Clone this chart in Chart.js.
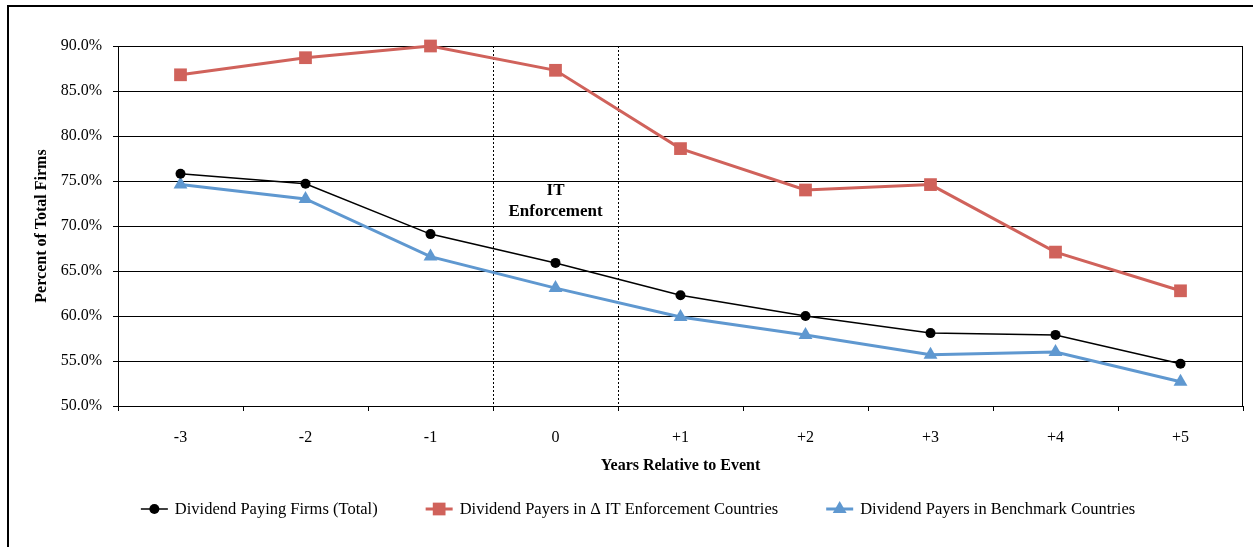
<!DOCTYPE html>
<html>
<head>
<meta charset="utf-8">
<script src="https://cdn.jsdelivr.net/npm/chart.js@4/dist/chart.umd.min.js"></script>
<style>
  html, body { margin: 0; padding: 0; background: #fff; overflow: hidden; }
  #wrap { position: relative; width: 1253px; height: 547px; }
</style>
</head>
<body>
<div id="wrap"><canvas id="myChart" width="1253" height="547"></canvas></div>
<script>
// chart data
const years = ['-3', '-2', '-1', '0', '+1', '+2', '+3', '+4', '+5'];
const totalPayers = [75.8, 74.7, 69.1, 65.9, 62.3, 60.0, 58.1, 57.9, 54.7];
const itPayers = [86.8, 88.7, 90.0, 87.3, 78.6, 74.0, 74.6, 67.1, 62.8];
const benchmarkPayers = [74.6, 73.0, 66.6, 63.1, 59.9, 57.9, 55.7, 56.0, 52.7];
const seriesNames = [
  'Dividend Paying Firms (Total)',
  'Dividend Payers in \u0394 IT Enforcement Countries',
  'Dividend Payers in Benchmark Countries'
];
const yTicks = [50, 55, 60, 65, 70, 75, 80, 85, 90];

const FONT = "'Liberation Serif', 'Times New Roman', serif";
const RED = '#d0625b';
const BLUE = '#5f98d0';

// outer frame, plot box, event window lines, note and legend
const extras = {
  id: 'extras',
  beforeDraw(chart) {
    const ctx = chart.ctx;
    ctx.save();
    ctx.fillStyle = '#fff';
    ctx.fillRect(0, 0, chart.width, chart.height);
    ctx.strokeStyle = '#000';
    ctx.lineWidth = 2;
    ctx.strokeRect(8, 6, chart.width + 20, chart.height + 20);
    ctx.restore();
  },
  beforeDatasetsDraw(chart) {
    const ctx = chart.ctx;
    const a = chart.chartArea;
    const x = chart.scales.x;
    const y = chart.scales.y;
    ctx.save();
    // plot box right edge
    ctx.strokeStyle = '#000';
    ctx.lineWidth = 1;
    ctx.beginPath();
    ctx.moveTo(a.right - 0.5, a.top);
    ctx.lineTo(a.right - 0.5, a.bottom);
    ctx.stroke();

    // dotted lines around year 0
    ctx.setLineDash([2, 2]);
    [[2, 3], [3, 4]].forEach(([i, j]) => {
      const px = Math.round((x.getPixelForValue(i) + x.getPixelForValue(j)) / 2) + 0.5;
      ctx.beginPath();
      ctx.moveTo(px, a.top);
      ctx.lineTo(px, a.bottom);
      ctx.stroke();
    });
    ctx.setLineDash([]);

    // note
    ctx.fillStyle = '#000';
    ctx.font = 'bold 17px ' + FONT;
    ctx.textAlign = 'center';
    ctx.textBaseline = 'middle';
    const nx = x.getPixelForValue(3);
    const ny = y.getPixelForValue(74);
    ctx.fillText('IT', nx, ny + 1);
    ctx.fillText('Enforcement', nx, ny + 22);
    ctx.restore();
  },
  afterDraw(chart) {
    const ctx = chart.ctx;
    ctx.save();
    // legend
    ctx.font = '16.5px ' + FONT;
    ctx.textAlign = 'left';
    ctx.textBaseline = 'middle';
    const lineLen = 27, gapText = 7, gapItem = 48;
    const widths = seriesNames.map(s => ctx.measureText(s).width);
    const total = widths.reduce((s, w) => s + w + lineLen + gapText, 0) + gapItem * 2;
    let lx = 638 - total / 2;
    const ly = 509;
    chart.data.datasets.forEach((ds, i) => {
      ctx.strokeStyle = ds.borderColor;
      ctx.lineWidth = ds.borderWidth;
      ctx.beginPath();
      ctx.moveTo(lx, ly);
      ctx.lineTo(lx + lineLen, ly);
      ctx.stroke();
      ctx.fillStyle = ds.pointBackgroundColor;
      Chart.helpers.drawPoint(ctx, {
        pointStyle: ds.pointStyle,
        radius: ds.pointRadius,
        borderWidth: 0,
        rotation: 0
      }, lx + lineLen / 2, ly);
      ctx.fillStyle = '#000';
      ctx.fillText(ds.label, lx + lineLen + gapText, ly + 1);
      lx += lineLen + gapText + widths[i] + gapItem;
    });
    ctx.restore();
  }
};

new Chart(document.getElementById('myChart'), {
  type: 'line',
  plugins: [extras],
  data: {
    labels: years,
    datasets: [
      {
        label: seriesNames[0],
        data: totalPayers,
        borderColor: '#000',
        backgroundColor: '#000',
        pointBackgroundColor: '#000',
        pointBorderColor: '#000',
        borderWidth: 1.5,
        pointStyle: 'circle',
        pointRadius: 5,
        pointBorderWidth: 0,
        clip: false,
        order: 1
      },
      {
        label: seriesNames[1],
        data: itPayers,
        borderColor: RED,
        backgroundColor: RED,
        pointBackgroundColor: RED,
        pointBorderColor: RED,
        borderWidth: 3,
        pointStyle: 'rect',
        pointRadius: 9,
        pointBorderWidth: 0,
        clip: false,
        order: 2
      },
      {
        label: seriesNames[2],
        data: benchmarkPayers,
        borderColor: BLUE,
        backgroundColor: BLUE,
        pointBackgroundColor: BLUE,
        pointBorderColor: BLUE,
        borderWidth: 3,
        pointStyle: 'triangle',
        pointRadius: 8,
        pointBorderWidth: 0,
        clip: false,
        order: 3
      }
    ]
  },
  options: {
    animation: false,
    responsive: false,
    layout: { padding: { left: 0, top: 46, right: 10, bottom: 71 } },
    plugins: {
      legend: { display: false },
      tooltip: { enabled: false }
    },
    elements: { line: { tension: 0 } },
    scales: {
      x: {
        offset: true,
        afterFit: (s) => { s.height = 70; },
        grid: {
          offset: true,
          drawOnChartArea: false,
          drawTicks: true,
          tickLength: 5,
          color: '#000'
        },
        border: { color: '#000', width: 1 },
        ticks: {
          color: '#000',
          font: { family: FONT, size: 16 },
          padding: 17,
          maxRotation: 0
        },
        title: {
          display: true,
          text: 'Years Relative to Event',
          color: '#000',
          font: { family: FONT, size: 16, weight: 'bold' },
          padding: { top: 0, bottom: 1 }
        }
      },
      y: {
        min: 50,
        max: 90,
        afterFit: (s) => { s.width = 118; },
        afterBuildTicks: (s) => { s.ticks = yTicks.map(v => ({ value: v })); },
        grid: {
          color: '#000',
          lineWidth: 1,
          tickLength: 5
        },
        border: { color: '#000', width: 1 },
        ticks: {
          color: '#000',
          font: { family: FONT, size: 16 },
          padding: 11,
          callback: (v) => v.toFixed(1) + '%'
        },
        title: {
          display: true,
          text: 'Percent of Total Firms',
          color: '#000',
          font: { family: FONT, size: 16, weight: 'bold' },
          padding: { top: 32, bottom: 0 }
        }
      }
    }
  }
});
</script>
</body>
</html>
